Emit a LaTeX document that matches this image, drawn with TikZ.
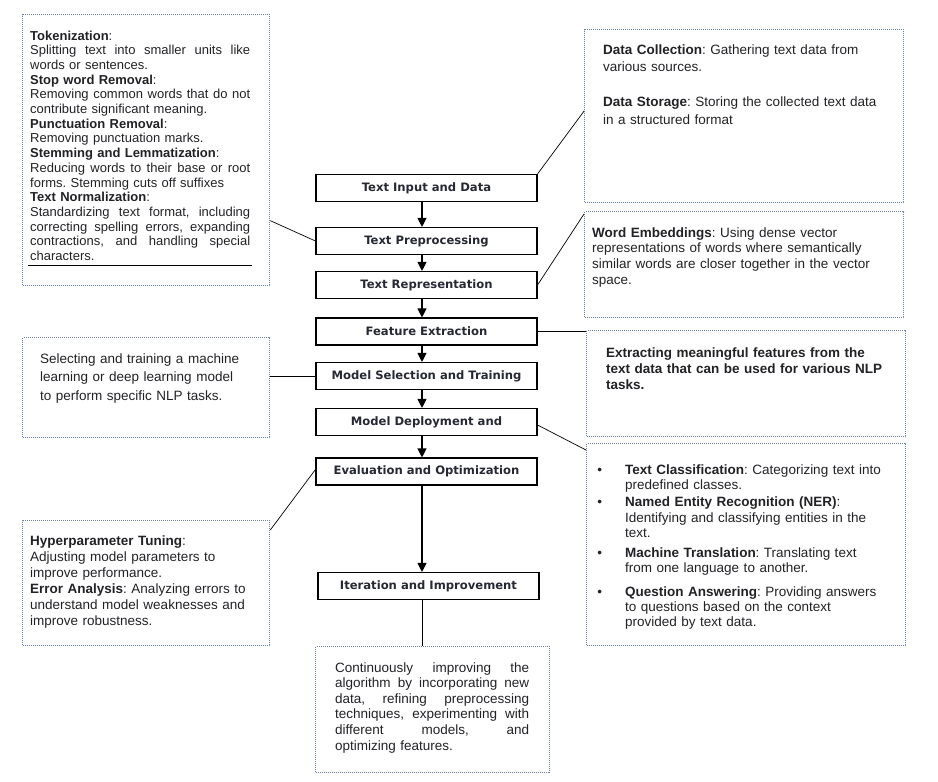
\documentclass[tikz,border=0pt]{standalone}
\usepackage{fontspec}
\setmainfont{Liberation Sans}
\newfontfamily\stepfont{DejaVu Sans}
\usetikzlibrary{arrows.meta,positioning}

\definecolor{dotblue}{RGB}{105,128,168}
\definecolor{inkgray}{RGB}{34,34,38}
\definecolor{stepink}{RGB}{38,40,52}

\newcommand{\jline}[2][220pt]{\makebox[#1][s]{\spaceskip=\fontdimen2\font plus 1fil\relax #2}}
\newcommand{\bul}{\leavevmode\llap{\textbullet\hspace{23pt}}}
\frenchspacing

\begin{document}
\begin{tikzpicture}[x=1pt, y=-1pt,
  stepbox/.style={draw, line width=1.1pt, minimum width=221pt, minimum height=27pt, inner sep=0pt,
    font=\stepfont\bfseries\fontsize{11.6}{13}\selectfont, text=stepink},
  notebox/.style={draw=dotblue, line width=1.3pt, dash pattern=on 1pt off 1pt, anchor=north west, inner sep=0pt},
  notetext/.style={anchor=base west, inner sep=0pt, align=left, text=inkgray},
  flow/.style={-{Triangle[width=9pt,length=9pt]}, line width=1.1pt},
  link/.style={line width=0.7pt}]

\useasboundingbox (0,0) rectangle (938,782);

% main steps
\node[stepbox] (input) at (426.5,188) {Text Input and Data};
\node[stepbox] (prep) at (426.5,241) {Text Preprocessing};
\node[stepbox] (repr) at (426.5,285) {Text Representation};
\node[stepbox] (feat) at (426.5,331.5) {Feature Extraction};
\node[stepbox] (sel) at (426.5,376) {Model Selection and Training};
\node[stepbox] (depl) at (426.5,422) {Model Deployment and};
\node[stepbox] (eval) at (426.5,471.5) {Evaluation and Optimization};
\node[stepbox] (iter) at (428.5,586) {Iteration and Improvement};

\coordinate (axis) at (422,0);

% note boxes
\node[notebox, minimum width=247pt, minimum height=271pt] (tokbox) at (22,14) {};
\node[notebox, minimum width=319pt, minimum height=173pt] (collect) at (584,29) {};
\node[notebox, minimum width=319pt, minimum height=106pt] (embed) at (584,211) {};
\node[notebox, minimum width=319pt, minimum height=106pt] (extract) at (586,330) {};
\node[notebox, minimum width=319pt, minimum height=202pt] (tasks) at (586,443) {};
\node[notebox, minimum width=247pt, minimum height=100pt] (select) at (22,337) {};
\node[notebox, minimum width=247pt, minimum height=125pt] (hyper) at (22,520) {};
\node[notebox, minimum width=234pt, minimum height=126pt] (improve) at (315,646) {};

% texts
\node[notetext, text width=220pt, font=\fontsize{13}{14.7}\selectfont] (toktext) at (30,40) {%
\textbf{Tokenization}:\\
\jline{Splitting text into smaller units like}\\
words or sentences.\\
\textbf{Stop word Removal}:\\
\jline{Removing common words that do not}\\
contribute significant meaning.\\
\textbf{Punctuation Removal}:\\
Removing punctuation marks.\\
\textbf{Stemming and Lemmatization}:\\
\jline{Reducing words to their base or root}\\
forms. Stemming cuts off suffixes\\
\textbf{Text Normalization}:\\
\jline{Standardizing text format, including}\\
\jline{correcting spelling errors, expanding}\\
\jline{contractions, and handling special}\\
characters.};
\draw[line width=0.9pt] (28,265) -- (252,265);

\node[notetext, text width=290pt, font=\fontsize{13.5}{17.5}\selectfont] (collecttext) at (603,54) {%
\textbf{Data Collection}: Gathering text data from\\
various sources.\\[17.5pt]
\textbf{Data Storage}: Storing the collected text data\\
in a structured format};

\node[notetext, text width=305pt, font=\fontsize{13.5}{15.7}\selectfont] (embedtext) at (592,237) {%
\textbf{Word Embeddings}: Using dense vector\\
representations of words where semantically\\
similar words are closer together in the vector\\
space.};

\node[notetext, text width=290pt, font=\bfseries\fontsize{13.5}{16}\selectfont] (extracttext) at (606,357) {%
Extracting meaningful features from the\\
text data that can be used for various NLP\\
tasks.};

\node[notetext, text width=270pt, font=\fontsize{13.5}{15.3}\selectfont] (taskstext) at (625,474) {%
\bul\textbf{Text Classification}: Categorizing text into\\
predefined classes.\\[2.3pt]
\bul\textbf{Named Entity Recognition (NER)}:\\
Identifying and classifying entities in the\\
text.\\[4.7pt]
\bul\textbf{Machine Translation}: Translating text\\
from one language to another.\\[8pt]
\bul\textbf{Question Answering}: Providing answers\\
to questions based on the context\\
provided by text data.};

\node[notetext, text width=220pt, font=\fontsize{13.5}{18.5}\selectfont] (selecttext) at (40,363) {%
Selecting and training a\ machine\\
learning or deep learning model\\
to perform specific NLP tasks.};

\node[notetext, text width=232pt, font=\fontsize{13.5}{16}\selectfont] (hypertext) at (30,545) {%
\textbf{Hyperparameter Tuning}:\\
Adjusting model parameters to\\
improve performance.\\
\textbf{Error Analysis}: Analyzing errors to\\
understand model weaknesses and\\
improve robustness.};

\node[notetext, text width=194pt, font=\fontsize{13.5}{15.6}\selectfont] (improvetext) at (335,672) {%
\jline[194pt]{Continuously improving the}\\
\jline[194pt]{algorithm by incorporating new}\\
\jline[194pt]{data, refining preprocessing}\\
\jline[194pt]{techniques, experimenting with}\\
\jline[194pt]{different models, and}\\
optimizing features.};

% flow arrows
\foreach \a/\b in {input/prep, prep/repr, repr/feat, feat/sel, sel/depl, depl/eval, eval/iter}
  \draw[flow] (\a.south -| axis) -- (\b.north -| axis);

% links to notes
\draw[link] (input.north east) -- ([yshift=5pt]collect.west);
\draw[link] (prep.west) -- ([yshift=-70.5pt]tokbox.east);
\draw[link] (repr.east) -- ([yshift=-3pt]embed.north west);
\draw[link] (feat.east) -- (feat.east -| extract.west);
\draw[link] (sel.west) -- (sel.west -| select.east);
\draw[link] ([yshift=-3pt]depl.east) -- ([yshift=-7pt]tasks.north west);
\draw[link] ([yshift=2pt]eval.west) -- ([yshift=-10pt]hyper.north east);
\draw[link] (iter.south -| axis) -- (improve.north -| axis);

\end{tikzpicture}
\end{document}
